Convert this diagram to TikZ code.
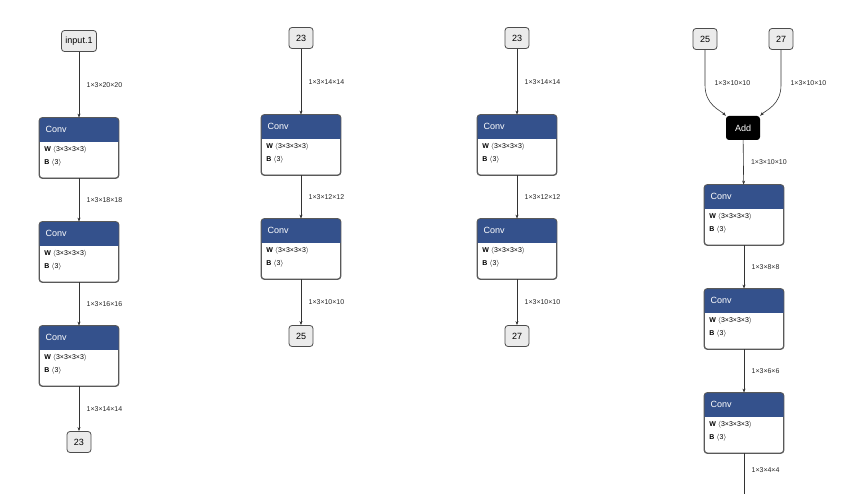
\documentclass[tikz,border=0pt]{standalone}
\usepackage{fontspec}
\setmainfont{Liberation Sans}
\usetikzlibrary{arrows.meta,calc}
\definecolor{headblue}{HTML}{34518C}
\tikzset{
  io/.style={draw=black!70,fill=black!8,rounded corners=3pt,minimum height=21pt,minimum width=24pt,inner xsep=4pt,font=\fontsize{9}{10}\selectfont,line width=0.8pt},
  convbody/.style={draw=black!65,fill=white,rounded corners=3pt,minimum width=79pt,minimum height=60pt,line width=0.8pt},
  addbox/.style={fill=black,rounded corners=3pt,minimum width=34pt,minimum height=24pt,text=white,font=\fontsize{9}{10}\selectfont},
  edge/.style={-{Stealth[length=4pt,width=3pt]},draw=black!80,line width=0.6pt},
  lbl/.style={font=\fontsize{7}{8}\selectfont,text=black!85,anchor=west},
}
\newcommand\convnode[3]{%
  \node[convbody] (#1) at (#2,#3) {};
  \begin{scope}
    \clip[rounded corners=3pt] (#1.south west) rectangle (#1.north east);
    \fill[headblue] (#1.north west) rectangle ($(#1.north east)+(0,24)$);
  \end{scope}
  \draw[black!65,line width=0.8pt,rounded corners=3pt] (#1.south west) rectangle (#1.north east);
  \node[anchor=west,text=white,font=\fontsize{9}{10}\selectfont] at ($(#1.north west)+(3,12)$) {Conv};
  \node[anchor=west,font=\fontsize{7}{8}\selectfont,inner sep=0pt] at ($(#1.north west)+(5,32)$) {\textbf{W} $\langle$3×3×3×3$\rangle$};
  \node[anchor=west,font=\fontsize{7}{8}\selectfont,inner sep=0pt] at ($(#1.north west)+(5,45)$) {\textbf{B} $\langle$3$\rangle$};
}
\begin{document}
\begin{tikzpicture}[x=1pt,y=-1pt]
\useasboundingbox (0,0) rectangle (850,494);
% column 1
\node[io] (in1) at (79,41) {input.1};
\convnode{a1}{79}{148}
\convnode{a2}{79}{252}
\convnode{a3}{79}{356}
\node[io] (o1) at (79,442) {23};
\draw[edge] (in1) -- node[lbl,right=4pt]{1×3×20×20} (a1);
\draw[edge] (a1) -- node[lbl,right=4pt]{1×3×18×18} (a2);
\draw[edge] (a2) -- node[lbl,right=4pt]{1×3×16×16} (a3);
\draw[edge] (a3) -- node[lbl,right=4pt]{1×3×14×14} (o1);
% column 2
\node[io] (i2) at (301,38) {23};
\convnode{b1}{301}{145}
\convnode{b2}{301}{249}
\node[io] (o2) at (301,336) {25};
\draw[edge] (i2) -- node[lbl,right=4pt]{1×3×14×14} (b1);
\draw[edge] (b1) -- node[lbl,right=4pt]{1×3×12×12} (b2);
\draw[edge] (b2) -- node[lbl,right=4pt]{1×3×10×10} (o2);
% column 3
\node[io] (i3) at (517,38) {23};
\convnode{c1}{517}{145}
\convnode{c2}{517}{249}
\node[io] (o3) at (517,336) {27};
\draw[edge] (i3) -- node[lbl,right=4pt]{1×3×14×14} (c1);
\draw[edge] (c1) -- node[lbl,right=4pt]{1×3×12×12} (c2);
\draw[edge] (c2) -- node[lbl,right=4pt]{1×3×10×10} (o3);
% column 4
\node[io] (i4a) at (705,39) {25};
\node[io] (i4b) at (781,39) {27};
\node[addbox] (add) at (743,128) {Add};
\convnode{d1}{744}{215}
\convnode{d2}{744}{319}
\convnode{d3}{744}{423}
\coordinate (end) at (744,494);
\draw[edge] (i4a.south) -- (705,85) .. controls (705,105) and (720,110) .. (add.north west);
\draw[edge] (i4b.south) -- (781,85) .. controls (781,105) and (766,110) .. (add.north east);
\node[lbl] at (711,83) {1×3×10×10};
\node[lbl] at (787,83) {1×3×10×10};
\draw[edge] (add) -- node[lbl,right=4pt]{1×3×10×10} (d1);
\draw[edge] (d1) -- node[lbl,right=4pt]{1×3×8×8} (d2);
\draw[edge] (d2) -- node[lbl,right=4pt]{1×3×6×6} (d3);
\draw[draw=black!80,line width=0.6pt] (d3) -- node[lbl,right=4pt,pos=0.4]{1×3×4×4} (end);
\end{tikzpicture}
\end{document}
